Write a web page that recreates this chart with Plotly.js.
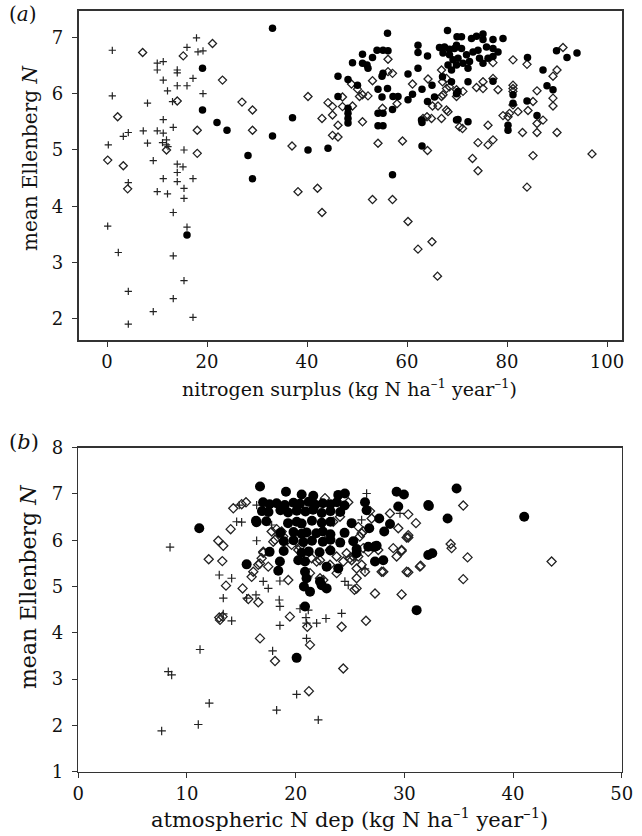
<!DOCTYPE html>
<html>
<head>
<meta charset="utf-8">
<script src="https://cdn.plot.ly/plotly-3.0.1.min.js"></script>
<style>html,body{margin:0;padding:0;background:#fff;}#chart{width:642px;height:836px;}</style>
</head>
<body>
<div id="chart"></div>
<script>
// ---------- Panel (a): nitrogen surplus vs mean Ellenberg N ----------
const crossA_x = [1.06,17.9,16.0,18.2,19.2,10.05,11.25,10.05,14.05,14.05,17.2,11.25,14.05,16.0,12.1,19.2,1.06,8.1,13.1,11.25,13.25,7.25,10.05,11.25,4.26,3.26,8.1,11.1,11.9,11.9,12.2,0.26,15.4,9.25,14.05,15.2,14.05,11.25,14.05,17.2,4.26,15.4,10.05,12.1,15.4,13.25,0.14,16.0,2.26,13.25,15.4,4.26,13.25,9.25,17.2,4.26];
const crossA_y = [6.77,6.99,6.82,6.74,6.76,6.54,6.57,6.42,6.42,6.37,6.27,6.24,6.14,6.14,6.05,6.0,5.96,5.83,5.86,5.54,5.40,5.34,5.34,5.30,5.31,5.24,5.12,5.13,5.18,5.09,5.06,5.09,5.0,4.81,4.75,4.70,4.60,4.49,4.44,4.49,4.42,4.32,4.26,4.22,4.14,3.89,3.65,3.63,3.18,3.12,2.68,2.49,2.36,2.13,2.03,1.91];

const diamA_x = [7.13,15.25,21.1,23.1,14.05,27.0,29.1,2.13,18.05,29.1,11.9,18.05,0.14,3.26,4.13,40.2,37.0,38.2,42.1,43.0,44.2,45.1,47.1,49.1,43.0,45.1,46.2,45.1,46.2,47.1,48.9,50.1,51.1,52.2,53.1,51.1,56.2,56.2,57.1,55.1,58.0,54.2,59.1,61.1,64.2,64.1,63.2,64.9,64.0,65.1,66.9,67.1,67.9,66.9,66.2,66.9,68.2,53.1,57.1,60.2,62.2,65.0,66.1,81.2,84.0,91.2,90.0,89.2,77.2,67.9,68.5,67.2,69.9,71.2,69.9,67.9,70.5,73.9,75.2,75.2,77.2,78.2,81.2,81.2,81.2,86.0,89.2,89.2,85.2,84.2,82.2,81.2,80.5,79.2,80.2,86.0,87.2,76.2,83.1,86.0,90.0,74.2,76.2,77.2,73.1,74.2,85.2,97.0,84.0,71.1,50.5];
const diamA_y = [6.73,6.67,6.89,6.24,5.87,5.85,5.71,5.59,5.35,5.35,5.0,4.94,4.82,4.72,4.31,5.95,5.07,4.26,4.32,3.89,5.84,5.77,5.77,5.78,5.56,5.62,5.44,5.26,5.23,5.94,6.17,6.08,5.98,5.96,6.23,5.50,6.61,6.39,6.36,5.74,5.82,5.12,5.16,6.17,6.26,4.99,5.56,5.56,5.59,5.78,6.42,6.21,6.09,5.95,5.78,5.56,5.68,4.12,4.12,3.73,3.24,3.37,2.76,6.60,6.52,6.82,6.42,6.31,6.55,6.27,6.12,5.98,6.07,6.04,5.95,5.71,5.41,6.11,6.09,6.21,6.27,6.07,6.15,6.09,6.04,6.05,5.92,5.78,5.86,5.70,5.68,5.80,5.65,5.61,5.59,5.47,5.53,5.44,5.31,5.31,5.31,5.13,5.09,5.18,4.85,4.63,4.90,4.93,4.34,5.38,5.95];

const circA_x = [19.1,19.1,22.0,24.0,28.2,29.1,16.0,33.1,33.1,37.1,40.2,44.2,46.2,48.2,46.2,48.2,48.2,48.2,48.2,49.1,50.1,51.1,51.1,52.0,52.2,53.1,54.0,55.2,56.2,56.1,55.0,55.2,54.2,56.1,55.0,57.2,58.2,57.1,54.2,55.2,54.2,55.2,60.2,60.2,61.1,62.2,62.2,62.2,63.0,64.1,65.0,64.1,63.0,63.0,57.1,68.1,66.5,67.5,68.5,69.5,67.2,68.5,69.2,68.2,69.9,68.9,67.1,68.9,70.0,69.9,69.9,70.9,72.9,73.9,75.2,75.2,77.2,79.2,69.9,70.9,70.2,71.9,73.2,74.2,75.9,77.2,78.2,74.5,76.2,77.2,72.5,75.2,72.2,71.2,84.1,87.2,89.9,92.0,94.0,77.2,70.2,72.2,81.2,88.0,89.2,84.0,86.0,70.2,72.2,80.2,80.2,65.5,62.9,81.2];
const circA_y = [6.45,5.71,5.49,5.35,4.90,4.49,3.49,7.16,5.25,5.57,5.0,5.03,6.31,6.25,5.95,5.74,5.65,5.56,5.48,6.55,6.15,6.70,6.54,6.51,6.45,6.64,6.77,6.77,6.76,7.07,6.31,6.36,6.08,6.09,5.94,5.95,5.95,5.72,5.65,5.65,5.43,5.43,6.35,5.89,5.99,6.86,6.73,6.45,6.08,6.67,6.15,5.86,5.49,5.07,4.56,7.12,6.82,6.83,6.79,6.80,6.72,6.69,6.60,6.51,6.51,6.42,6.30,6.21,7.01,6.0,5.53,7.01,6.98,7.02,7.06,6.96,6.96,6.98,6.86,6.80,6.63,6.69,6.74,6.77,6.83,6.80,6.74,6.63,6.63,6.66,6.57,6.54,6.45,6.54,6.64,6.42,6.76,6.64,6.72,6.22,6.04,6.21,5.98,6.14,6.07,5.87,5.61,5.54,5.50,5.35,5.44,5.94,5.53,5.83];

// ---------- Panel (b): atmospheric N deposition vs mean Ellenberg N ----------
const crossB_x = [8.44,8.28,8.59,7.67,11.04,12.05,11.20,12.97,13.34,13.34,14.11,14.57,15.03,14.81,15.49,16.35,16.41,16.41,26.53,17.79,18.40,17.02,17.48,18.55,18.49,18.55,20.40,21.16,21.93,22.79,24.23,18.55,21.0,21.0,20.95,17.88,20.09,18.25,22.08,24.53,24.84,21.16,26.07,26.38,29.60,23.16,14.11];
const crossB_y = [5.85,3.16,3.09,1.88,2.02,2.48,3.64,5.25,4.75,4.41,4.26,6.40,6.39,6.76,4.75,4.82,5.99,6.76,7.01,6.33,6.11,5.11,4.96,5.12,4.71,4.57,4.52,4.49,4.21,4.31,4.42,4.16,4.21,3.88,4.33,3.61,2.67,2.33,2.12,5.11,5.03,5.21,6.44,5.38,6.58,6.04,5.18];

const diamB_x = [12.0,12.88,13.34,13.25,13.59,12.97,13.28,13.04,14.02,14.26,15.03,15.43,15.12,15.64,15.95,16.56,16.56,16.72,24.84,22.70,24.08,23.46,23.0,17.79,18.25,18.71,17.94,17.02,16.72,17.48,19.32,19.47,18.10,21.07,21.32,21.22,24.38,24.23,26.47,27.30,29.75,25.41,23.77,23.16,25.61,26.38,27.14,28.06,22.24,21.47,21.93,23.16,23.77,24.38,24.99,25.76,26.22,26.68,28.68,29.44,28.98,29.75,29.29,30.36,31.07,30.36,30.21,31.43,26.84,26.99,25.76,26.22,35.42,30.21,30.36,34.26,34.35,35.82,43.55,35.42,31.50,30.36,29.75,25.9,26.07,27.6,24.69,25.3,25.15,26.07,25.61,27.91,25.61,19.63,20.24,20.4,17.02,16.87,16.1,18.86,18.1,21.32,22.54,22.24];
const diamB_y = [5.59,5.99,5.88,5.55,5.02,4.33,4.35,4.28,6.24,6.69,6.78,6.82,4.96,4.73,5.21,5.47,4.66,3.88,6.82,6.91,6.51,6.40,6.11,6.19,6.24,6.19,5.97,5.75,5.50,5.43,5.14,4.35,3.39,4.13,3.74,2.74,3.23,4.13,4.26,4.85,4.83,4.93,5.29,5.47,5.18,5.32,5.86,5.32,5.18,5.61,5.54,5.79,5.65,5.54,5.61,5.65,5.83,5.75,6.58,6.26,5.83,5.77,5.65,6.56,6.37,6.11,5.32,5.43,6.63,6.47,6.29,6.19,6.75,6.06,6.06,5.92,5.83,5.63,5.54,5.16,5.45,5.31,5.79,6.08,6.15,5.79,5.72,5.65,5.57,5.47,5.39,5.32,4.96,5.90,5.79,5.86,5.73,5.61,5.32,6.08,6.01,5.29,5.14,5.57];

const circB_x = [11.13,15.49,16.35,16.72,19.11,20.55,21.62,23.92,24.53,29.29,29.96,17.0,17.6,18.25,19.0,19.8,20.4,21.2,21.8,22.5,23.2,23.8,24.5,16.9,17.5,18.6,19.3,20.1,20.9,21.6,22.4,23.2,24.1,16.4,17.3,19.3,20.1,20.55,21.5,22.4,23.2,18.6,19.8,20.55,21.0,21.9,22.5,23.2,24.5,18.9,19.8,20.7,21.5,22.5,23.2,24.1,25.3,17.6,18.9,20.55,21.2,22.2,23.2,25.6,18.55,20.24,20.86,22.85,23.92,28.06,27.30,26.68,27.30,18.40,20.86,21.0,22.24,20.76,21.32,22.39,22.85,20.86,20.09,31.13,29.44,28.68,28.15,26.38,26.53,26.77,27.69,27.45,25.61,32.2,32.2,25.15,34.81,32.26,33.98,41.03,32.57];
const circB_y = [6.26,5.48,6.42,7.16,7.05,6.99,6.96,6.98,7.01,7.05,6.99,6.82,6.78,6.80,6.76,6.81,6.79,6.83,6.77,6.80,6.78,6.82,6.75,6.63,6.61,6.65,6.60,6.64,6.62,6.66,6.59,6.63,6.61,6.39,6.41,6.37,6.40,6.36,6.42,6.38,6.40,6.16,6.18,6.14,6.17,6.15,6.19,6.13,6.16,5.98,6.00,5.96,5.99,5.97,6.01,5.95,5.98,5.75,5.77,5.73,5.76,5.74,5.78,5.72,5.54,5.57,5.54,5.43,5.39,5.57,5.54,5.86,5.86,5.34,5.32,5.18,5.11,5.0,4.89,5.03,4.96,4.57,3.46,4.49,6.73,6.35,6.19,6.82,6.65,6.26,6.47,5.88,5.81,6.76,5.68,6.37,7.12,6.74,6.47,6.51,5.72];

const xTicksA = [0,20,40,60,80,100];
const yTicksA = [2,3,4,5,6,7];
const xTicksB = [0,10,20,30,40,50];
const yTicksB = [1,2,3,4,5,6,7,8];

const FONT = 'DejaVu Serif, Liberation Serif, serif';
const INK = '#222';

function crossTrace(x, y, xa, ya, size) {
  return {type:'scatter', mode:'markers', x:x, y:y, xaxis:xa, yaxis:ya, hoverinfo:'skip',
    marker:{symbol:'cross-thin', size:size, color:INK, line:{color:INK, width:1.2}}};
}
function diamTrace(x, y, xa, ya, size) {
  return {type:'scatter', mode:'markers', x:x, y:y, xaxis:xa, yaxis:ya, hoverinfo:'skip',
    marker:{symbol:'diamond-open', size:size, color:INK, line:{color:INK, width:1.3}}};
}
function circTrace(x, y, xa, ya, size) {
  return {type:'scatter', mode:'markers', x:x, y:y, xaxis:xa, yaxis:ya, hoverinfo:'skip',
    marker:{symbol:'circle', size:size, color:'#000', line:{width:0}}};
}

const data = [
  crossTrace(crossA_x, crossA_y, 'x', 'y', 5.2),
  diamTrace(diamA_x, diamA_y, 'x', 'y', 6.2),
  circTrace(circA_x, circA_y, 'x', 'y', 7.5),
  crossTrace(crossB_x, crossB_y, 'x2', 'y2', 6),
  diamTrace(diamB_x, diamB_y, 'x2', 'y2', 7),
  circTrace(circB_x, circB_y, 'x2', 'y2', 10)
];

const axisBase = {showgrid:false, zeroline:false, showline:true, mirror:true, linecolor:'#333', linewidth:1.6,
  ticks:'outside', ticklen:5, tickwidth:1, tickcolor:'#333', tickfont:{family:FONT, size:18, color:'#111'}, fixedrange:true};

const H = 836, W = 642;
const TXT = {family:FONT, color:'#111'};
function ann(text, px, py, size, angle) {
  return {text:text, xref:'paper', yref:'paper', x:px/W, y:1-py/H, xanchor:'center', yanchor:'middle',
    textangle:angle || 0, showarrow:false, font:Object.assign({size:size}, TXT)};
}

const layout = {
  width:W, height:H, margin:{l:0, r:0, t:0, b:0}, showlegend:false,
  paper_bgcolor:'#fff', plot_bgcolor:'#fff',
  xaxis:Object.assign({}, axisBase, {domain:[78.5/W, 622/W], range:[-5.7, 103], tickvals:xTicksA, anchor:'y'}),
  yaxis:Object.assign({}, axisBase, {domain:[1-340/H, 1-11/H], range:[1.627, 7.467], tickvals:yTicksA, anchor:'x', ticklabelstandoff:5}),
  xaxis2:Object.assign({}, axisBase, {domain:[78.3/W, 621.7/W], range:[0, 50], tickvals:xTicksB, anchor:'y2'}),
  yaxis2:Object.assign({}, axisBase, {domain:[1-771.7/H, 1-447.7/H], range:[1, 8], tickvals:yTicksB, anchor:'x2', ticklabelstandoff:5}),
  annotations:[
    ann('(<i>a</i>)', 23, 14, 20),
    ann('(<i>b</i>)', 24, 442, 21),
    ann('mean Ellenberg <i>N</i>', 30, 158, 20, -90),
    ann('mean Ellenberg <i>N</i>', 28, 587, 22, -90),
    ann('nitrogen surplus (kg N ha<sup>–1</sup> year<sup>–1</sup>)', 350, 388, 19),
    ann('atmospheric N dep (kg N ha<sup>–1</sup> year<sup>–1</sup>)', 350, 818, 21)
  ]
};

Plotly.newPlot('chart', data, layout, {displayModeBar:false, staticPlot:true});
</script>
</body>
</html>
